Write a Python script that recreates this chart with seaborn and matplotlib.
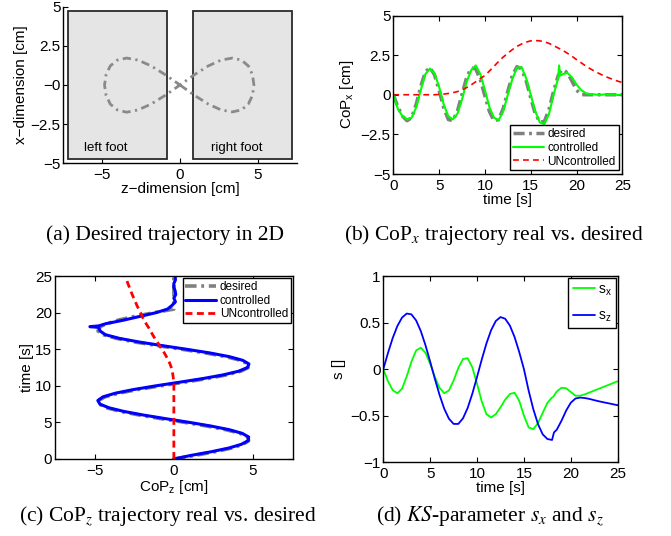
import numpy as np
import matplotlib
matplotlib.use("Agg")
import matplotlib.pyplot as plt
import seaborn as sns
from matplotlib.patches import Rectangle

# ---------------- data ----------------
time_s = [0.0, 0.5, 1.0, 1.5, 2.0, 2.5, 3.0, 3.5, 4.0, 4.5,
          5.0, 5.5, 6.0, 6.5, 7.0, 7.5, 8.0, 8.5, 9.0, 9.5,
          10.0, 10.5, 11.0, 11.5, 12.0, 12.5, 13.0, 13.5, 14.0, 14.5,
          15.0, 15.5, 16.0, 16.5, 17.0, 17.5,
          18.0, 18.1, 18.2,
          18.5, 19.0, 19.5, 20.0, 20.5, 21.0, 21.5, 22.0, 22.5, 23.0, 23.5, 24.0, 24.5, 25.0]

desired_x = [0.00, -0.76, -1.35, -1.64, -1.45, -0.60, 0.53, 1.44, 1.72, 1.26,
             0.28, -0.82, -1.56, -1.64, -1.03, 0.03, 1.08, 1.69, 1.63, 0.95,
             -0.08, -1.07, -1.65, -1.57, -0.86, 0.22, 1.23, 1.77, 1.63, 0.89,
             -0.19, -1.21, -1.72, -1.68, -0.92, 0.23,
             1.21, 1.32, 1.42,
             1.60, 1.39, 0.86, 0.30, 0.01, 0.00, 0.00, 0.00, 0.00, 0.00, 0.00, 0.00, 0.00, 0.00]

desired_z = [0.00, 1.36, 2.61, 3.64, 4.36, 4.72, 4.67, 4.18, 3.30, 2.10,
             0.71, -0.76, -2.15, -3.35, -4.23, -4.71, -4.76, -4.34, -3.48, -2.28,
             -0.86, 0.66, 2.10, 3.32, 4.22, 4.69, 4.69, 4.20, 3.27, 2.00,
             0.52, -1.02, -2.46, -3.64, -4.44, -4.79,
             -4.69, -4.62, -4.55,
             -4.24, -3.49, -2.48, -1.28, 0.00, 0.00, 0.00, 0.00, 0.00, 0.00, 0.00, 0.00, 0.00, 0.00]

ctrl_x = [0.00, -0.90, -1.35, -1.55, -1.45, -0.80, 0.30, 1.30, 1.65, 1.35,
          0.50, -0.60, -1.35, -1.55, -1.20, -0.30, 0.80, 1.55, 1.85, 1.30,
          0.30, -0.80, -1.45, -1.60, -1.05, 0.00, 1.00, 1.70, 1.75, 1.05,
          0.00, -1.05, -1.75, -1.85, -1.20, 0.00,
          1.05, 1.85, 1.20,
          1.30, 1.38, 1.10, 0.65, 0.30, 0.10, 0.04, 0.02, -0.02, 0.02, 0.00, 0.02, -0.01, 0.00]

unctrl_x = [0.00, 0.00, 0.00, 0.00, 0.00, 0.00, 0.00, 0.00, 0.00, 0.00,
            0.02, 0.04, 0.08, 0.13, 0.20, 0.30, 0.45, 0.62, 0.82, 1.02,
            1.22, 1.50, 1.80, 2.10, 2.38, 2.62, 2.85, 3.05, 3.20, 3.32,
            3.40, 3.42, 3.40, 3.34, 3.24, 3.10,
            2.95, 2.92, 2.89,
            2.80, 2.62, 2.43, 2.22, 2.02, 1.82, 1.64, 1.48, 1.33, 1.19, 1.07, 0.96, 0.86, 0.77]

ctrl_z = [0.00, 1.10, 2.38, 3.47, 4.25, 4.69, 4.72, 4.32, 3.51, 2.36,
          1.00, -0.47, -1.89, -3.14, -4.09, -4.66, -4.80, -4.47, -3.69, -2.54,
          -1.15, 0.36, 1.83, 3.11, 4.08, 4.64, 4.74, 4.34, 3.49, 2.28,
          0.82, -0.72, -2.19, -3.44, -4.32, -4.65,
          -4.75, -5.30, -4.75,
          -4.30, -3.15, -2.15, -1.15, -0.40, -0.12, 0.10, 0.00, 0.12, 0.08, 0.00, 0.00, 0.10, 0.08]

unctrl_z = [0.00, 0.00, 0.00, 0.00, 0.00, 0.00, 0.00, 0.00, 0.00, 0.00,
            0.00, 0.00, 0.00, 0.00, 0.00, 0.00, 0.00, 0.00, 0.00, 0.00,
            0.00, 0.00, -0.03, -0.06, -0.10, -0.16, -0.24, -0.35, -0.47, -0.60,
            -0.75, -0.90, -1.05, -1.20, -1.34, -1.47,
            -1.60, -1.63, -1.66,
            -1.75, -1.88, -2.00, -2.10, -2.22, -2.33, -2.43, -2.53, -2.63, -2.72, -2.81, -2.90, -2.98, -3.06]

s_x = [0.000, -0.130, -0.225, -0.260, -0.209, -0.077, 0.081, 0.200, 0.231, 0.175,
       0.057, -0.084, -0.202, -0.258, -0.229, -0.121, 0.013, 0.109, 0.117, 0.017,
       -0.158, -0.347, -0.483, -0.519, -0.483, -0.410, -0.327, -0.267, -0.253, -0.341,
       -0.499, -0.626, -0.644, -0.579, -0.469, -0.362,
       -0.303, -0.300, -0.285,
       -0.240, -0.200, -0.205, -0.245, -0.285, -0.285, -0.270, -0.250, -0.230, -0.210, -0.190, -0.170, -0.150, -0.130]

s_z = [0.000, 0.174, 0.333, 0.463, 0.554, 0.597, 0.588, 0.523, 0.409, 0.256,
       0.080, -0.104, -0.277, -0.425, -0.532, -0.588, -0.588, -0.528, -0.416, -0.262,
       -0.083, 0.103, 0.276, 0.419, 0.517, 0.559, 0.541, 0.468, 0.345, 0.183,
       0.000, -0.230, -0.430, -0.590, -0.700, -0.750,
       -0.760, -0.720, -0.680,
       -0.650, -0.555, -0.445, -0.360, -0.315, -0.305, -0.310, -0.320, -0.333, -0.345, -0.356, -0.366, -0.377, -0.387]

# desired 2D path as drawn in panel (a)
path_z = [0.00, 0.93, 1.82, 2.64, 3.36, 3.95, 4.39, 4.66, 4.75, 4.66, 4.39, 3.95, 3.36, 2.64, 1.82, 0.93,
          0.00, -0.95, -1.86, -2.69, -3.43, -4.03, -4.48, -4.75, -4.85, -4.75, -4.48, -4.03, -3.43, -2.69,
          -1.86, -0.95, 0.00]
path_x = [0.00, -0.66, -1.22, -1.59, -1.72, -1.59, -1.22, -0.66, 0.00, 0.66, 1.22, 1.59, 1.72, 1.59, 1.22, 0.66,
          0.00, -0.66, -1.22, -1.59, -1.74, -1.59, -1.22, -0.66, 0.00, 0.66, 1.22, 1.59, 1.72, 1.59,
          1.22, 0.66, 0.00]

# feet (panel a)
foot_z_left = [-7.2, -0.85]
foot_z_right = [0.85, 7.2]
foot_x_span = [-4.75, 4.75]
foot_names = ["left foot", "right foot"]
foot_label_z = [-4.75, 3.65]
foot_label_x = -4.05

legend_bc = ["desired", "controlled", "UNcontrolled"]
legend_d = [r"s$_\mathrm{x}$", r"s$_\mathrm{z}$"]

captions = ["(a) Desired trajectory in 2D",
            r"(b) CoP$_x$ trajectory real vs. desired",
            r"(c) CoP$_z$ trajectory real vs. desired",
            r"(d) $\mathit{KS}$-parameter $s_x$ and $s_z$"]

for arr in (desired_x, desired_z, ctrl_x, unctrl_x, ctrl_z, unctrl_z, s_x, s_z):
    assert len(arr) == len(time_s), len(arr)
assert len(path_z) == len(path_x)

t = np.array(time_s)

# ---------------- style ----------------
sns.set_style("ticks", {"xtick.direction": "in", "ytick.direction": "in"})
plt.rcParams.update({
    "font.family": ["Liberation Sans", "DejaVu Sans"],
    "font.size": 11,
    "mathtext.fontset": "custom",
    "mathtext.rm": "Liberation Sans",
    "mathtext.it": "Liberation Sans:italic",
    "mathtext.sf": "Liberation Sans",
    "axes.linewidth": 1.0,
    "axes.edgecolor": "black",
    "text.color": "black",
    "axes.labelcolor": "black",
    "xtick.color": "black",
    "ytick.color": "black",
    "xtick.major.size": 3.5,
    "ytick.major.size": 3.5,
    "xtick.major.width": 0.8,
    "ytick.major.width": 0.8,
    "xtick.labelsize": 11,
    "ytick.labelsize": 11,
    "axes.labelsize": 11,
    "xtick.major.pad": 3.5,
    "ytick.major.pad": 2.0,
    "legend.fontsize": 8.5,
})

W, H = 671, 536
fig = plt.figure(figsize=(W / 100, H / 100), dpi=100)


def add_ax(l, r, top, bot):
    return fig.add_axes([l / W, 1 - bot / H, (r - l) / W, (bot - top) / H])


GRAY = "#808080"
DASHDOT = (0, (3.2, 1.3, 0.8, 1.3))

# ---------------- panel a ----------------
axA = add_ax(63.3, 296.7, 6.7, 163.3)
for zs in (foot_z_left, foot_z_right):
    axA.add_patch(Rectangle((zs[0], foot_x_span[0]), zs[1] - zs[0],
                            foot_x_span[1] - foot_x_span[0],
                            facecolor="#e5e5e5", edgecolor="#2a2a2a", lw=1.3, zorder=1))
for name, zc in zip(foot_names, foot_label_z):
    axA.text(zc, foot_label_x, name, ha="center", va="center", fontsize=9.5)
sns.lineplot(x=path_z, y=path_x, sort=False, estimator=None, ax=axA,
             color="#8a8a8a", lw=2.0, linestyle=(0, (3.0, 1.6, 0.8, 1.6)))
axA.set_xlim(-7.5, 7.5)
axA.set_ylim(-5, 5)
axA.set_xticks([-5, 0, 5])
axA.set_xticklabels(["\u22125", "0", "5"])
axA.set_yticks([-5, -2.5, 0, 2.5, 5])
axA.set_yticklabels(["\u22125", "\u22122.5", "\u22120", "2.5", "5"])
axA.spines["top"].set_visible(False)
axA.spines["right"].set_visible(False)
axA.tick_params(top=False, right=False)
axA.set_xlabel("z\u2212dimension [cm]")
axA.set_ylabel("x\u2212dimension [cm]")
axA.xaxis.set_label_coords(0.5, -0.12)
axA.yaxis.set_label_coords(-0.15, 0.5)

# ---------------- panel b ----------------
axB = add_ax(393.3, 622.3, 15.5, 174)
sns.lineplot(x=t, y=desired_x, ax=axB, sort=False, estimator=None, color=GRAY,
             lw=2.5, linestyle=DASHDOT, label=legend_bc[0])
sns.lineplot(x=t, y=ctrl_x, ax=axB, sort=False, estimator=None, color="#00ff00",
             lw=1.5, label=legend_bc[1])
sns.lineplot(x=t, y=unctrl_x, ax=axB, sort=False, estimator=None, color="#ff0000",
             lw=1.2, linestyle=(0, (3.5, 2.5)), label=legend_bc[2])
axB.set_xlim(0, 25)
axB.set_ylim(-5, 5)
axB.set_xticks([0, 5, 10, 15, 20, 25])
axB.set_yticks([-5, -2.5, 0, 2.5, 5])
axB.set_yticklabels(["\u22125", "\u22122.5", "0", "2.5", "5"])
axB.tick_params(top=True, right=True)
axB.set_xlabel("time [s]")
axB.set_ylabel(r"CoP$_\mathrm{x}$ [cm]")
axB.xaxis.set_label_coords(0.5, -0.12)
axB.yaxis.set_label_coords(-0.165, 0.5)
legB = axB.legend(loc="lower right", frameon=True, fancybox=False, edgecolor="black",
                  framealpha=1, handlelength=2.6, borderpad=0.25, labelspacing=0.15,
                  handletextpad=0.3, borderaxespad=0.3)
legB.get_frame().set_linewidth(1.0)

# ---------------- panel c ----------------
axC = add_ax(55, 292.7, 276.2, 459)
sns.lineplot(x=desired_z, y=t, ax=axC, sort=False, estimator=None, color=GRAY,
             lw=2.6, linestyle=DASHDOT, label=legend_bc[0])
sns.lineplot(x=ctrl_z, y=t, ax=axC, sort=False, estimator=None, color="#0000ff",
             lw=2.2, label=legend_bc[1])
sns.lineplot(x=unctrl_z, y=t, ax=axC, sort=False, estimator=None, color="#ff0000",
             lw=2.0, linestyle=(0, (2.5, 1.6)), label=legend_bc[2])
axC.set_xlim(-7.5, 7.5)
axC.set_ylim(0, 25)
axC.set_xticks([-5, 0, 5])
axC.set_xticklabels(["\u22125", "0", "5"])
axC.set_yticks([0, 5, 10, 15, 20, 25])
axC.tick_params(top=True, right=True)
axC.set_xlabel(r"CoP$_\mathrm{z}$ [cm]")
axC.set_ylabel("time [s]")
axC.xaxis.set_label_coords(0.5, -0.105)
axC.yaxis.set_label_coords(-0.09, 0.5)
legC = axC.legend(loc="upper right", frameon=True, fancybox=False, edgecolor="black",
                  framealpha=1, handlelength=2.6, borderpad=0.25, labelspacing=0.15,
                  handletextpad=0.3, borderaxespad=0.15)
legC.get_frame().set_linewidth(1.0)

# ---------------- panel d ----------------
axD = add_ax(383.3, 617.7, 276, 462.3)
sns.lineplot(x=t, y=s_x, ax=axD, sort=False, estimator=None, color="#00ff00",
             lw=1.3, label=legend_d[0])
sns.lineplot(x=t, y=s_z, ax=axD, sort=False, estimator=None, color="#0000ff",
             lw=1.3, label=legend_d[1])
axD.set_xlim(0, 25)
axD.set_ylim(-1, 1)
axD.set_xticks([0, 5, 10, 15, 20, 25])
axD.set_yticks([-1, -0.5, 0, 0.5, 1])
axD.set_yticklabels(["\u22121", "\u22120.5", "0", "0.5", "1"])
axD.tick_params(top=True, right=True)
axD.set_xlabel("time [s]")
axD.set_ylabel("s []")
axD.xaxis.set_label_coords(0.5, -0.1)
axD.yaxis.set_label_coords(-0.16, 0.5)
legD = axD.legend(loc="upper right", frameon=True, fancybox=False, edgecolor="black",
                  framealpha=1, handlelength=1.6, borderpad=0.3, labelspacing=0.8,
                  handletextpad=0.2, borderaxespad=0.15, fontsize=10)
legD.get_frame().set_linewidth(1.0)

# ---------------- captions ----------------
cap_pos = [(165, 235), (494, 235), (168, 516), (490, 516)]
for txt, (cx, cy) in zip(captions, cap_pos):
    fig.text(cx / W, 1 - cy / H, txt, ha="center", va="center", fontsize=15.5,
             family="Liberation Serif", math_fontfamily="stix")

fig.savefig("out.png", dpi=100)
